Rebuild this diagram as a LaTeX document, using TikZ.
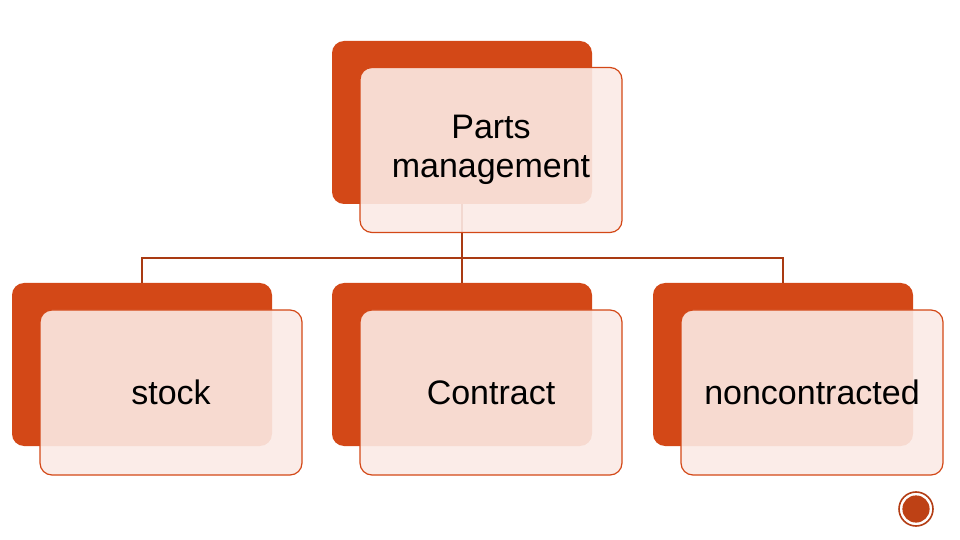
\documentclass[tikz,border=0pt]{standalone}
\usepackage{fontspec}
\setmainfont{Liberation Sans}
\usetikzlibrary{positioning}
\definecolor{rust}{HTML}{D34817}
\definecolor{blush}{HTML}{FBEAE5}
\tikzset{
  back/.style={fill=rust,draw=none,rounded corners=6pt,minimum width=130pt,minimum height=81.5pt,inner sep=0pt},
  front/.style={fill=blush,fill opacity=0.9,text opacity=1,draw=rust,line width=0.6pt,rounded corners=6pt,minimum width=131pt,minimum height=82.5pt,inner sep=0pt,font=\fontsize{17}{19.5}\selectfont,align=center},
  link/.style={draw=rust!80!black,line width=0.6pt}
}
\begin{document}
\begin{tikzpicture}[x=0.5pt,y=-0.5pt]
\useasboundingbox (0,0) rectangle (960,540);
 \node[back] (topb) at (462,122.5) {};
 \node[back] (stockb) at (142,364.5) {};
 \node[back] (contb) at (462,364.5) {};
 \node[back] (noncb) at (783,364.5) {};
 \coordinate (bend) at (462,258);
 \draw[link] (topb.south) -- (bend);
 \draw[link] (stockb.north) |- (bend) -| (noncb.north);
 \draw[link] (bend) -- (contb.north);
 \node[front] (top) at (491,150) {Parts\\management};
 \node[front] (stock) at (171,392.5) {stock};
 \node[front] (cont) at (491,392.5) {Contract};
 \node[front] (nonc) at (812,392.5) {noncontracted};
 \node[circle,draw=rust!85!black,line width=0.8pt,minimum size=17pt,inner sep=0pt] (mark) at (916,509) {};
 \fill[rust!90!black] (mark.center) circle (6.8pt);
\end{tikzpicture}
\end{document}
